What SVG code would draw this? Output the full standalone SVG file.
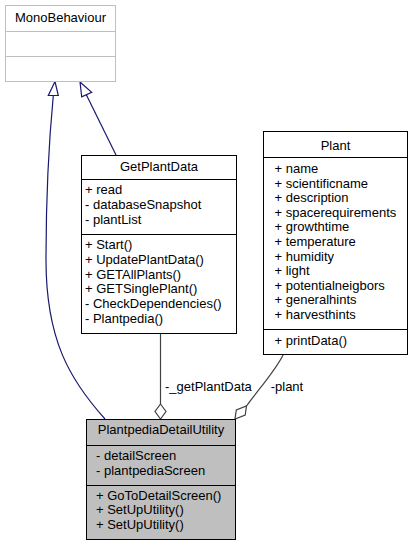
<svg xmlns="http://www.w3.org/2000/svg" width="413" height="545" viewBox="0 0 413 545">
<style>
  text { font-family: "Liberation Sans", Arial, sans-serif; font-size: 13px; fill: #000; }
  .t { text-anchor: middle; }
  .box { fill: #fff; stroke: #000; stroke-width: 1; }
  .ext { fill: #fff; stroke: #bfbfbf; stroke-width: 1; }
  .sep { stroke: #000; stroke-width: 1; }
  .esep { stroke: #bfbfbf; stroke-width: 1; }
  .hl { fill: #bfbfbf; stroke: #000; stroke-width: 1; }
  .inh { fill: none; stroke: #191970; stroke-width: 1.2; }
  .agg { fill: none; stroke: #404040; stroke-width: 1.2; }
  .tri { fill: #fff; stroke: #191970; stroke-width: 1.2; }
  .dia { fill: #fff; stroke: #404040; stroke-width: 1.2; }
</style>
<rect width="413" height="545" fill="#fff"/>

<g id="connectors">
  <path class="inh" d="M105,419 C70,380 46,340 46,260 C46,180 50,130 53.3,95.5"/>
  <polygon class="tri" points="55,81.5 48.3,95.5 58.3,95.5"/>
  <path class="inh" d="M116,155 L86.2,94.6"/>
  <polygon class="tri" points="80,82 81.7,96.8 91.7,92.4"/>
  <path class="agg" d="M160.5,333.5 L160.5,404"/>
  <polygon class="dia" points="160.5,404 166,411.5 160.5,419 155,411.5"/>
  <text x="165" y="390.7">-_getPlantData</text>
  <path class="agg" d="M283.3,354.5 C276,370 258,390 246.5,406"/>
  <polygon class="dia" points="235,419 236.3,410 246.5,406 245.2,415"/>
  <text x="270.7" y="390.7">-plant</text>
</g>

<g id="MonoBehaviour">
  <rect class="ext" x="5.5" y="5.5" width="110" height="76"/>
  <line class="esep" x1="5.5" y1="31.5" x2="115.5" y2="31.5"/>
  <line class="esep" x1="5.5" y1="56.5" x2="115.5" y2="56.5"/>
  <text class="t" x="60.5" y="22">MonoBehaviour</text>
</g>

<g id="GetPlantData">
  <rect class="box" x="81.5" y="155.5" width="155" height="178"/>
  <line class="sep" x1="81.5" y1="179.5" x2="236.5" y2="179.5"/>
  <line class="sep" x1="81.5" y1="234.5" x2="236.5" y2="234.5"/>
  <text class="t" x="159" y="171">GetPlantData</text>
  <text x="85" y="194.3">+ read</text>
  <text x="85" y="209">- databaseSnapshot</text>
  <text x="85" y="224">- plantList</text>
  <text x="85" y="249">+ Start()</text>
  <text x="85" y="264">+ UpdatePlantData()</text>
  <text x="85" y="278.5">+ GETAllPlants()</text>
  <text x="85" y="293.3">+ GETSinglePlant()</text>
  <text x="85" y="308">- CheckDependencies()</text>
  <text x="85" y="322.7">- Plantpedia()</text>
</g>

<g id="Plant">
  <rect class="box" x="263.5" y="131.5" width="144" height="223"/>
  <line class="sep" x1="263.5" y1="157.5" x2="407.5" y2="157.5"/>
  <line class="sep" x1="263.5" y1="329.5" x2="407.5" y2="329.5"/>
  <text class="t" x="335.5" y="150">Plant</text>
  <text x="274.5" y="173">+ name</text>
  <text x="274.5" y="187.6">+ scientificname</text>
  <text x="274.5" y="202.2">+ description</text>
  <text x="274.5" y="216.8">+ spacerequirements</text>
  <text x="274.5" y="231.4">+ growthtime</text>
  <text x="274.5" y="246">+ temperature</text>
  <text x="274.5" y="260.6">+ humidity</text>
  <text x="274.5" y="275.2">+ light</text>
  <text x="274.5" y="289.8">+ potentialneigbors</text>
  <text x="274.5" y="304.4">+ generalhints</text>
  <text x="274.5" y="319">+ harvesthints</text>
  <text x="274.5" y="345">+ printData()</text>
</g>

<g id="PlantpediaDetailUtility">
  <rect class="hl" x="86.5" y="419.5" width="149" height="120"/>
  <line class="sep" x1="86.5" y1="445.5" x2="235.5" y2="445.5"/>
  <line class="sep" x1="86.5" y1="485.5" x2="235.5" y2="485.5"/>
  <text class="t" x="161" y="434.3">PlantpediaDetailUtility</text>
  <text x="96" y="460">- detailScreen</text>
  <text x="96" y="474.6">- plantpediaScreen</text>
  <text x="96" y="499.8">+ GoToDetailScreen()</text>
  <text x="96" y="514.4">+ SetUpUtility()</text>
  <text x="96" y="529">+ SetUpUtility()</text>
</g>
</svg>
